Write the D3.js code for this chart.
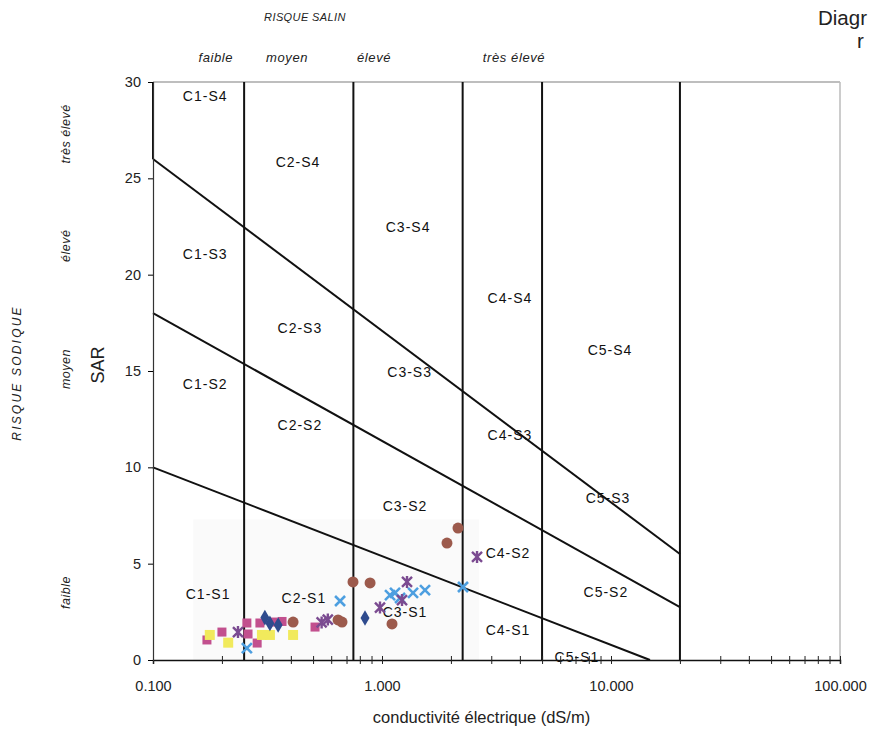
<!DOCTYPE html>
<html><head><meta charset="utf-8">
<script src="https://cdn.jsdelivr.net/npm/d3@7"></script>
<style>
body{margin:0;background:#fff;}
svg{display:block;font-family:"Liberation Sans",Arial,sans-serif;}
</style></head>
<body><svg id="c" width="872" height="737"></svg>
<script>
// ---- data ----
const xTickValues = [0.1, 1, 10, 100];
const xTickLabels = ["0.100", "1.000", "10.000", "100.000"];
const yTickValues = [0, 5, 10, 15, 20, 25, 30];
const salinityBounds = [0.25, 0.75, 2.25, 5, 20];          // dS/m
const salinityClasses = ["faible", "moyen", "élevé", "très élevé"];
const salinityClassPos = [0.188, 0.385, 0.923, 3.77];
const sodiumClasses = ["faible", "moyen", "élevé", "très élevé"];
const sodiumClassPos = [3.5, 15.1, 21.5, 27.3];
// sodium boundary lines: [[ec0, sar0], [ec1, sar1]]
const sodiumLines = [
  [[0.1, 10], [14.8, 0]],
  [[0.1, 18], [20, 2.75]],
  [[0.1, 26], [20, 5.5]]
];
const zoneNames = ["C1-S4","C2-S4","C3-S4","C4-S4","C5-S4",
                   "C1-S3","C2-S3","C3-S3","C4-S3","C5-S3",
                   "C1-S2","C2-S2","C3-S2","C4-S2","C5-S2",
                   "C1-S1","C2-S1","C3-S1","C4-S1","C5-S1"];
const zoneEC  = [0.169,0.43,1.30,3.62,9.9, 0.169,0.438,1.32,3.62,9.7, 0.169,0.438,1.26,3.55,9.5, 0.174,0.456,1.26,3.55,7.1];
const zoneSAR = [29.27,25.84,22.47,18.79,16.09, 21.07,17.23,14.95,11.68,8.41, 14.32,12.2,7.99,5.55,3.53, 3.43,3.22,2.49,1.56,0.16];

// series (EC dS/m, SAR)
const sDiamondEC  = [0.308, 0.324, 0.352, 0.843];
const sDiamondSAR = [2.2, 1.9, 1.82, 2.18];
const sMagentaEC  = [0.172, 0.200, 0.257, 0.26, 0.285, 0.293, 0.334, 0.366, 0.51];
const sMagentaSAR = [1.04, 1.45, 1.92, 1.35, 0.88, 1.92, 1.97, 2.0, 1.71];
const sYellowEC   = [0.177, 0.213, 0.299, 0.324, 0.409];
const sYellowSAR  = [1.3, 0.9, 1.3, 1.3, 1.3];
const sCrossEC    = [0.257, 0.656, 1.084, 1.14, 1.199, 1.366, 1.541, 2.258];
const sCrossSAR   = [0.62, 3.06, 3.37, 3.48, 3.22, 3.48, 3.63, 3.79];
const sStarEC     = [0.235, 0.545, 0.58, 0.98, 1.223, 1.286, 2.60];
const sStarSAR    = [1.45, 1.95, 2.1, 2.72, 3.11, 4.05, 5.35];
const sCircleEC   = [0.409, 0.643, 0.669, 0.747, 0.887, 1.106, 1.922, 2.147];
const sCircleSAR  = [1.97, 2.08, 1.97, 4.05, 4.0, 1.87, 6.07, 6.85];

// ---- drawing ----
const svg = d3.select("#c");
const x = d3.scaleLog().domain([0.1, 100]).range([153, 840]);
const y = d3.scaleLinear().domain([0, 30]).range([660, 82]);

// faint scan patch behind points
svg.append("rect").attr("x", x(0.15)).attr("y", y(7.3)).attr("width", x(2.65) - x(0.15))
   .attr("height", y(0) - y(7.3)).attr("fill", "#fafafa");

// plot frame (top, right) grey
svg.append("line").attr("x1", x(0.1)).attr("x2", x(100)).attr("y1", y(30)).attr("y2", y(30))
   .attr("stroke", "#a8a8a8").attr("stroke-width", 1.5);
svg.append("line").attr("x1", x(100)).attr("x2", x(100)).attr("y1", y(30)).attr("y2", y(0))
   .attr("stroke", "#bbb").attr("stroke-width", 1.5);

// salinity boundaries
svg.selectAll(".vb").data(salinityBounds).join("line")
  .attr("x1", d => x(d)).attr("x2", d => x(d)).attr("y1", y(30)).attr("y2", y(0))
  .attr("stroke", "#111").attr("stroke-width", 2);
svg.append("line").attr("x1", x(0.1)).attr("x2", x(0.1)).attr("y1", y(30)).attr("y2", y(26))
  .attr("stroke", "#111").attr("stroke-width", 2);

// sodium lines
svg.selectAll(".sl").data(sodiumLines).join("line")
  .attr("x1", d => x(d[0][0])).attr("y1", d => y(d[0][1]))
  .attr("x2", d => x(d[1][0])).attr("y2", d => y(d[1][1]))
  .attr("stroke", "#111").attr("stroke-width", 2);

// zone labels
svg.selectAll(".zl").data(zoneNames).join("text")
  .attr("x", (d, i) => x(zoneEC[i])).attr("y", (d, i) => y(zoneSAR[i]))
  .attr("dy", "0.35em").attr("text-anchor", "middle")
  .attr("font-size", 14).attr("letter-spacing", 1).attr("fill", "#111").text(d => d);

// axes
const minor = [];
for (let e = -1; e < 2; e++) for (let k = 2; k <= 9; k++) minor.push(k * Math.pow(10, e));
const xAxis = svg.append("g").attr("transform", `translate(0,${y(0)})`)
  .call(d3.axisBottom(x).tickValues(xTickValues.concat(minor)).tickSize(4)
    .tickFormat(d => { const i = xTickValues.indexOf(d); return i >= 0 ? xTickLabels[i] : ""; }));
xAxis.select(".domain").attr("stroke", "#111").attr("stroke-width", 1.5);
xAxis.selectAll(".tick line").attr("y1", -4).attr("y2", 4).attr("stroke", "#222");
xAxis.selectAll(".tick text").attr("font-size", 14.5).attr("font-family", "Liberation Sans, Arial")
  .attr("fill", "#222").attr("y", 21);

const yAxis = svg.append("g").attr("transform", `translate(${x(0.1)},0)`)
  .call(d3.axisLeft(y).tickValues(yTickValues).tickSize(5).tickPadding(7));
yAxis.select(".domain").attr("stroke", "#333").attr("stroke-width", 1.2);
yAxis.selectAll(".tick text").attr("font-size", 14.5).attr("font-family", "Liberation Sans, Arial").attr("fill", "#222");

// axis titles
svg.append("text").attr("x", (x(0.1) + x(100)) / 2 - 15).attr("y", 723).attr("text-anchor", "middle")
  .attr("font-size", 16.5).attr("fill", "#222").text("conductivité électrique (dS/m)");
svg.append("text").attr("transform", `translate(104,${y(15) - 6}) rotate(-90)`).attr("text-anchor", "middle")
  .attr("font-size", 18).attr("fill", "#222").text("SAR");
svg.append("text").attr("transform", `translate(21,${y(15) + 2}) rotate(-90)`).attr("text-anchor", "middle")
  .attr("font-size", 12).attr("font-style", "italic").attr("fill", "#222").attr("letter-spacing", 2.2)
  .text("RISQUE SODIQUE");
svg.selectAll(".sc").data(sodiumClasses).join("text")
  .attr("transform", (d, i) => `translate(70,${y(sodiumClassPos[i])}) rotate(-90)`)
  .attr("text-anchor", "middle").attr("font-size", 12.5).attr("font-style", "italic").attr("fill", "#222")
  .attr("letter-spacing", 0.5).text(d => d);
svg.append("text").attr("x", 305).attr("y", 21).attr("text-anchor", "middle")
  .attr("font-size", 11).attr("font-style", "italic").attr("fill", "#222").attr("letter-spacing", 0.4)
  .text("RISQUE SALIN");
svg.selectAll(".cc").data(salinityClasses).join("text")
  .attr("x", (d, i) => x(salinityClassPos[i])).attr("y", 62).attr("text-anchor", "middle")
  .attr("font-size", 13).attr("font-style", "italic").attr("fill", "#222").attr("letter-spacing", 0.6)
  .text(d => d);

// title fragment visible at the page edge
svg.append("text").attr("x", 818).attr("y", 25).attr("font-size", 20.5).attr("fill", "#222")
  .text("Diagr");
svg.append("text").attr("x", 857).attr("y", 48).attr("font-size", 20.5).attr("fill", "#222")
  .text("r");

// points
const pts = svg.append("g");
function pairs(a, b) { return a.map((v, i) => [v, b[i]]); }
pts.selectAll(".sq1").data(pairs(sMagentaEC, sMagentaSAR)).join("rect")
  .attr("x", d => x(d[0]) - 4.5).attr("y", d => y(d[1]) - 4.5).attr("width", 9).attr("height", 9)
  .attr("fill", "#c2508e");
pts.selectAll(".sq2").data(pairs(sYellowEC, sYellowSAR)).join("rect")
  .attr("x", d => x(d[0]) - 5).attr("y", d => y(d[1]) - 5).attr("width", 10).attr("height", 10)
  .attr("fill", "#f1ea5c");
pts.selectAll(".dm").data(pairs(sDiamondEC, sDiamondSAR)).join("path")
  .attr("transform", d => `translate(${x(d[0])},${y(d[1])})`)
  .attr("d", d3.symbol(d3.symbolDiamond, 70)).attr("fill", "#2f4b8e");
pts.selectAll(".ci").data(pairs(sCircleEC, sCircleSAR)).join("circle")
  .attr("cx", d => x(d[0])).attr("cy", d => y(d[1])).attr("r", 5.5).attr("fill", "#9c5a4c");
pts.selectAll(".cr").data(pairs(sCrossEC, sCrossSAR)).join("path")
  .attr("transform", d => `translate(${x(d[0])},${y(d[1])})`)
  .attr("d", "M-5,-5L5,5M-5,5L5,-5").attr("stroke", "#4d9fe0").attr("stroke-width", 2.6).attr("fill", "none");
pts.selectAll(".st").data(pairs(sStarEC, sStarSAR)).join("path")
  .attr("transform", d => `translate(${x(d[0])},${y(d[1])})`)
  .attr("d", "M-5,-5L5,5M-5,5L5,-5M0,-6L0,6").attr("stroke", "#7b4b91").attr("stroke-width", 2.4).attr("fill", "none");
</script></body></html>
